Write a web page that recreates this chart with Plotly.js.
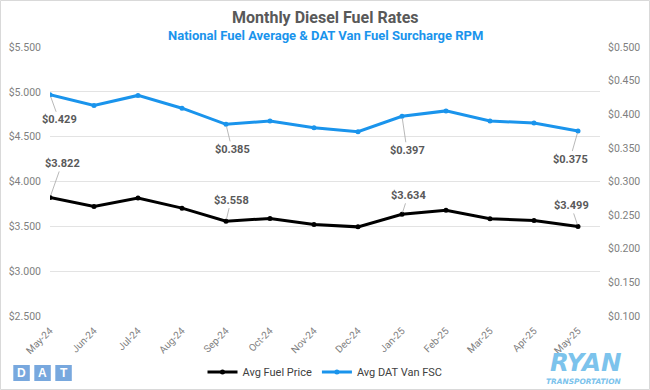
<!DOCTYPE html>
<html>
<head>
<meta charset="utf-8">
<script src="https://cdn.plot.ly/plotly-3.0.1.min.js"></script>
<style>html,body{margin:0;padding:0;background:#fff;}#chart{width:650px;height:390px;}</style>
</head>
<body>
<div id="chart"></div>
<script>
// ---- data ----
var months = ["May-24","Jun-24","Jul-24","Aug-24","Sep-24","Oct-24","Nov-24","Dec-24","Jan-25","Feb-25","Mar-25","Apr-25","May-25"];
var fuelPrice = [3.822, 3.722, 3.816, 3.703, 3.558, 3.588, 3.520, 3.494, 3.634, 3.678, 3.584, 3.565, 3.499];
var vanFSC = [0.429, 0.413, 0.428, 0.409, 0.385, 0.390, 0.380, 0.374, 0.397, 0.405, 0.390, 0.387, 0.375];
var labelIdx = [0, 4, 8, 12];
var fuelLabelOffsets = [[12,-34],[5,-21],[6,-19],[-7,-21]];
var fscLabelOffsets = [[9,25],[6,25],[5,34],[-8,28]];

// ---- layout helpers (pixel -> paper) ----
var L = 50, R = 50, T = 47, B = 74, W = 650, H = 390;
var PW = W - L - R, PH = H - T - B;
function px(x){ return (x - L) / PW; }
function py(y){ return (H - B - y) / PH; }

var BLUE = "#1a94ec";
var font = "Roboto, 'Liberation Sans', Arial, sans-serif";
var logoFont = "'DejaVu Sans', 'Liberation Sans', Arial, sans-serif";

var traces = [
  {x: months, y: fuelPrice, name: "Avg Fuel Price", type: "scatter", mode: "lines+markers",
   line: {color: "#000000", width: 3}, marker: {color: "#000000", size: 5}, yaxis: "y"},
  {x: months, y: vanFSC, name: "Avg DAT Van FSC", type: "scatter", mode: "lines+markers",
   line: {color: BLUE, width: 3}, marker: {color: BLUE, size: 5}, yaxis: "y2"}
];

var annotations = [];
labelIdx.forEach(function(i, k){
  annotations.push({x: months[i], y: fuelPrice[i], xref: "x", yref: "y",
    text: "<b>$" + fuelPrice[i].toFixed(3) + "</b>", showarrow: true, arrowhead: 0,
    arrowwidth: 0.8, arrowcolor: "#a6a6a6", ax: fuelLabelOffsets[k][0], ay: fuelLabelOffsets[k][1],
    standoff: 2, font: {family: font, size: 11, color: "#595959"}});
  annotations.push({x: months[i], y: vanFSC[i], xref: "x", yref: "y2",
    text: "<b>$" + vanFSC[i].toFixed(3) + "</b>", showarrow: true, arrowhead: 0,
    arrowwidth: 0.8, arrowcolor: "#a6a6a6", ax: fscLabelOffsets[k][0], ay: fscLabelOffsets[k][1],
    standoff: 2, font: {family: font, size: 11, color: "#595959"}});
});
// titles
annotations.push({text: "<b>Monthly Diesel Fuel Rates</b>", xref: "paper", yref: "paper",
  x: px(325), y: py(18), xanchor: "center", yanchor: "middle", showarrow: false,
  font: {family: font, size: 16, color: "#595959"}});
annotations.push({text: "<b>National Fuel Average & DAT Van Fuel Surcharge RPM</b>", xref: "paper", yref: "paper",
  x: px(325), y: py(36), xanchor: "center", yanchor: "middle", showarrow: false,
  font: {family: font, size: 13, color: BLUE}});
// logos
var DATBLUE = "#78a8de";
var RYANBLUE = "#7cc3ec";
var shapes = [
  {type: "rect", xref: "paper", yref: "paper", x0: px(0.5), x1: px(649.5), y0: py(389.5), y1: py(0.5),
   line: {color: "#d9d9d9", width: 1}, fillcolor: "rgba(0,0,0,0)"}
];
var datLetters = ["D","A","T"];
var datX = [13.3, 34.3, 55.3];
datX.forEach(function(x0, k){
  shapes.push({type: "rect", xref: "paper", yref: "paper", x0: px(x0), x1: px(x0 + 16.5),
    y0: py(381), y1: py(365), line: {width: 0}, fillcolor: DATBLUE});
  annotations.push({text: "<b>" + datLetters[k] + "</b>", xref: "paper", yref: "paper",
    x: px(x0 + 8.25), y: py(373), xanchor: "center", yanchor: "middle", showarrow: false,
    font: {family: "'Liberation Sans', Arial, sans-serif", size: 12, color: "#ffffff"}});
});
annotations.push({text: "<b><i>RYAN</i></b>", xref: "paper", yref: "paper",
  x: px(585), y: py(362.5), xanchor: "center", yanchor: "middle", showarrow: false,
  font: {family: logoFont, size: 24.5, color: RYANBLUE}});
annotations.push({text: "<b><i>TRANSPORTATION</i></b>", xref: "paper", yref: "paper",
  x: px(584), y: py(381.5), xanchor: "center", yanchor: "middle", showarrow: false,
  font: {family: logoFont, size: 7.4, color: RYANBLUE}});

var layout = {
  width: W, height: H,
  margin: {l: L, r: R, t: T, b: B, pad: 0, autoexpand: false},
  paper_bgcolor: "#ffffff", plot_bgcolor: "#ffffff",
  showlegend: true,
  legend: {orientation: "h", x: 0.5, xanchor: "center", yref: "container", y: (H - 372) / H, yanchor: "middle",
    font: {family: font, size: 11, color: "#404040"}, itemwidth: 30, tracegroupgap: 0},
  xaxis: {type: "category", range: [0, 12.5], showgrid: false, zeroline: false, showline: false,
    automargin: false, ticks: "", tickangle: -45, ticklabelstandoff: 6,
    tickfont: {family: font, size: 10, color: "#7f7f7f"}, fixedrange: true},
  yaxis: {range: [2.5, 5.5], dtick: 0.5, tick0: 2.5, tickformat: "$.3f", showgrid: true,
    automargin: false, gridcolor: "#e3e3e3", gridwidth: 1, zeroline: false, showline: false, ticks: "",
    ticklabelstandoff: 8, tickfont: {family: font, size: 10.5, color: "#7f7f7f"}, fixedrange: true},
  yaxis2: {range: [0.1, 0.5], dtick: 0.05, tick0: 0.1, tickformat: "$.3f", overlaying: "y", side: "right",
    automargin: false, showgrid: false, zeroline: false, showline: false, ticks: "",
    ticklabelstandoff: 7, tickfont: {family: font, size: 10.5, color: "#7f7f7f"}, fixedrange: true},
  annotations: annotations,
  shapes: shapes,
  hovermode: false
};

Plotly.newPlot("chart", traces, layout, {displayModeBar: false, staticPlot: true});
</script>
</body>
</html>
